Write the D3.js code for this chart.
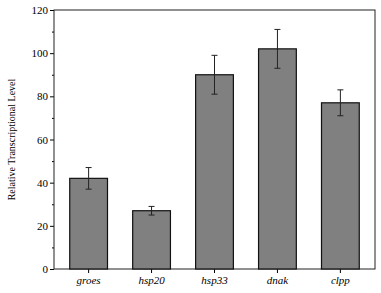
<!DOCTYPE html>
<html>
<head>
<meta charset="utf-8">
<script src="https://cdn.jsdelivr.net/npm/d3@7"></script>
<style>
  body { margin: 0; background: #fff; }
  svg { font-family: 'Liberation Serif', 'Times New Roman', serif; }
</style>
</head>
<body>
<svg width="381" height="293"></svg>
<script>
const genes = ['groes', 'hsp20', 'hsp33', 'dnak', 'clpp']
const levels = [42, 27, 90, 102, 77]
const errors = [5, 2, 9, 9, 6]
const yTicks = [0, 20, 40, 60, 80, 100, 120]

const svg = d3.select('svg')
const margin = { top: 10, right: 6, bottom: 24, left: 54 }
const width = +svg.attr('width') - margin.left - margin.right
const height = +svg.attr('height') - margin.top - margin.bottom
const g = svg.append('g').attr('transform', 'translate(' + margin.left + ',' + margin.top + ')')

const x = d3.scaleBand()
  .domain(genes)
  .range([0, width])
  .paddingInner(0.4)
  .paddingOuter(0.25)

const y = d3.scaleLinear()
  .domain([0, 120])
  .range([height, 0])

// minor ticks
g.append('g')
  .call(d3.axisLeft(y).tickValues(d3.range(10, 120, 20)).tickSize(2).tickFormat(''))
  .call(a => a.select('.domain').remove())

const yAxis = g.append('g')
  .call(d3.axisLeft(y).tickValues(yTicks).tickSize(4).tickPadding(2))
yAxis.selectAll('text').attr('font-size', 11).attr('font-family', 'Liberation Serif')

const xAxis = g.append('g')
  .attr('transform', 'translate(0,' + height + ')')
  .call(d3.axisBottom(x).tickSize(4).tickPadding(3))
xAxis.selectAll('text').attr('font-size', 11).attr('font-style', 'italic').attr('font-family', 'Liberation Serif')
xAxis.select('.domain').remove()
yAxis.select('.domain').remove()

// frame
g.append('rect')
  .attr('width', width)
  .attr('height', height)
  .attr('fill', 'none')
  .attr('stroke', '#222')
  .attr('stroke-width', 1)

g.selectAll('.bar')
  .data(genes)
  .enter().append('rect')
  .attr('class', 'bar')
  .attr('x', d => x(d))
  .attr('y', (d, i) => y(levels[i]))
  .attr('width', x.bandwidth())
  .attr('height', (d, i) => height - y(levels[i]))
  .attr('fill', '#808080')
  .attr('stroke', '#111')
  .attr('stroke-width', 1.2)

const err = g.selectAll('.err')
  .data(genes)
  .enter().append('g')
  .attr('class', 'err')
  .attr('stroke', '#222')
  .attr('stroke-width', 1)

err.append('line')
  .attr('x1', d => x(d) + x.bandwidth() / 2)
  .attr('x2', d => x(d) + x.bandwidth() / 2)
  .attr('y1', (d, i) => y(levels[i] + errors[i]))
  .attr('y2', (d, i) => y(levels[i] - errors[i]))

err.append('line')
  .attr('x1', d => x(d) + x.bandwidth() / 2 - 3)
  .attr('x2', d => x(d) + x.bandwidth() / 2 + 3)
  .attr('y1', (d, i) => y(levels[i] + errors[i]))
  .attr('y2', (d, i) => y(levels[i] + errors[i]))

err.append('line')
  .attr('x1', d => x(d) + x.bandwidth() / 2 - 3)
  .attr('x2', d => x(d) + x.bandwidth() / 2 + 3)
  .attr('y1', (d, i) => y(levels[i] - errors[i]))
  .attr('y2', (d, i) => y(levels[i] - errors[i]))

svg.append('text')
  .attr('transform', 'translate(15,' + (margin.top + height / 2) + ') rotate(-90)')
  .attr('text-anchor', 'middle')
  .attr('font-size', 10)
  .text('Relative Transcriptional Level')
</script>
</body>
</html>
